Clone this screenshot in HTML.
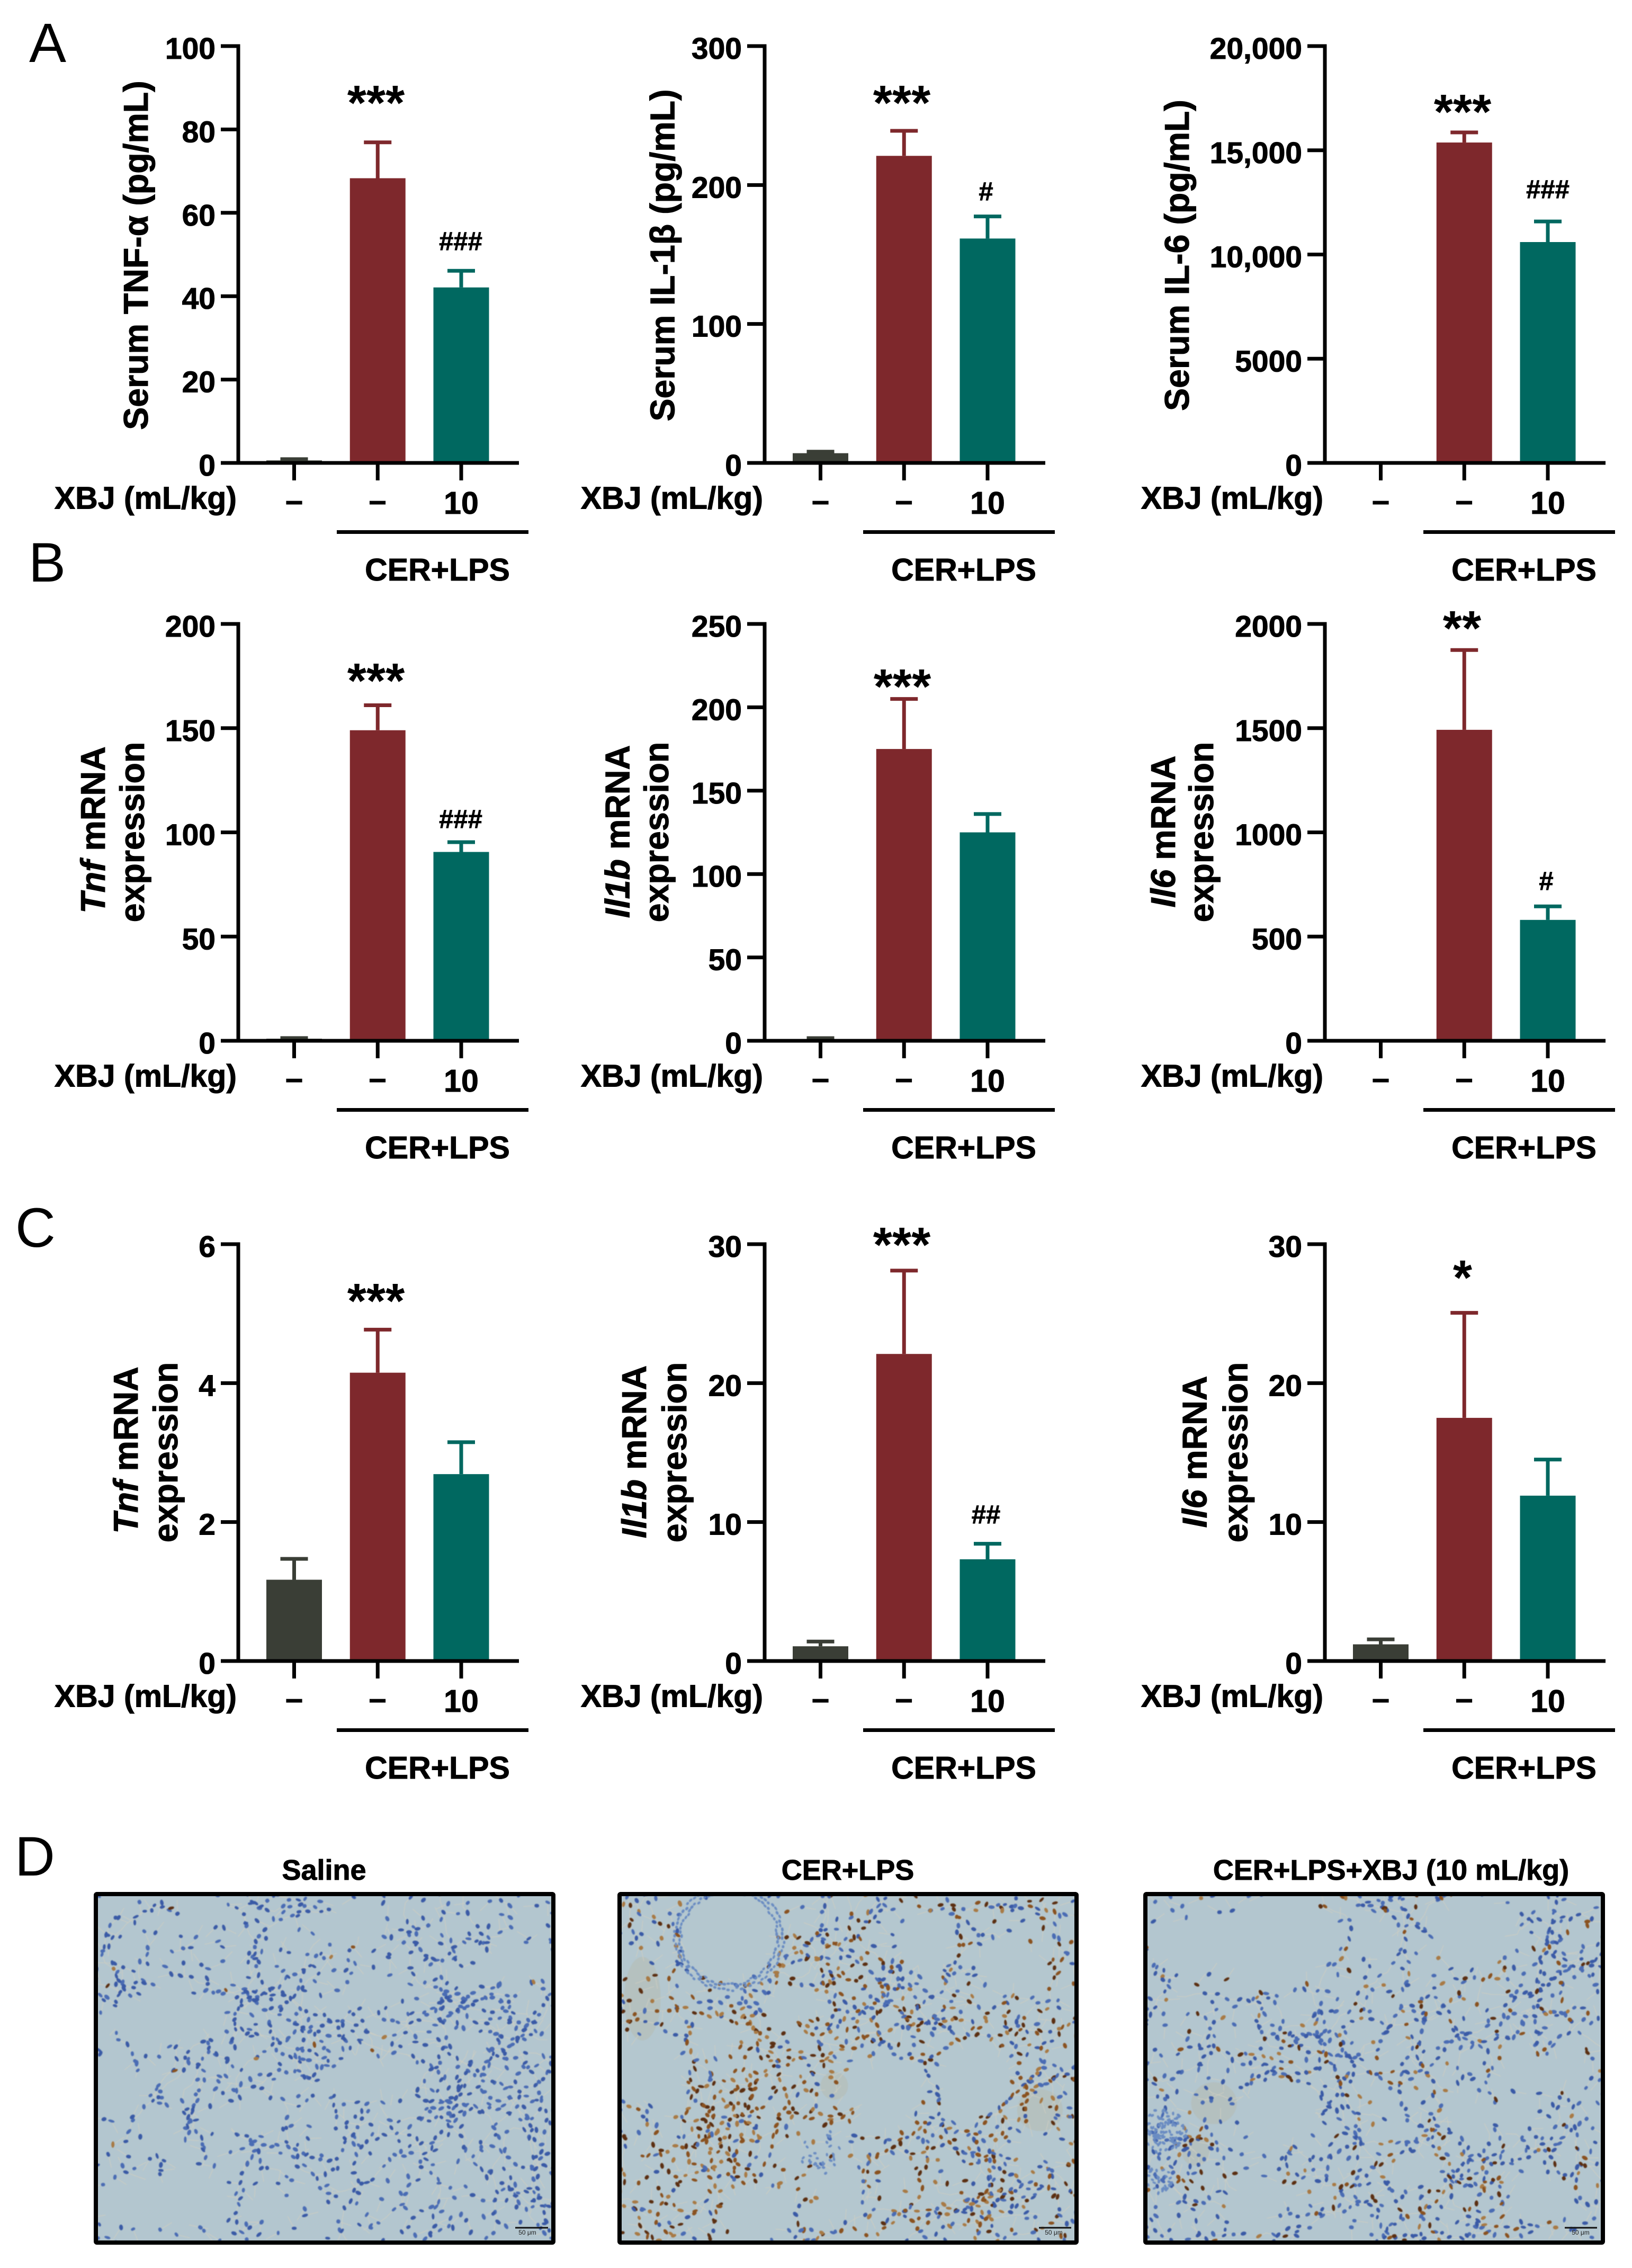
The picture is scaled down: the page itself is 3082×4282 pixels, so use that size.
<!DOCTYPE html>
<html lang="en">
<head>
<meta charset="utf-8">
<title>XBJ cytokine and mRNA expression figure</title>
<style>
html,body{margin:0;padding:0;background:#fff;}
#figure{position:relative;width:3082px;height:4282px;overflow:hidden;background:#fff;}
#figure-svg{position:absolute;left:0;top:0;}
canvas{position:absolute;top:3576px;filter:blur(0.8px);}
text{font-family:"Liberation Sans",Arial,sans-serif;fill:#000;}
.letter{font-size:105px;font-weight:400;}
.tick{font-size:57px;font-weight:700;text-anchor:end;stroke:#000;stroke-width:1;}
.lab{font-size:59px;font-weight:700;stroke:#000;stroke-width:1;}
.mid{text-anchor:middle;}
.ttl{font-size:64.5px;font-weight:700;text-anchor:middle;stroke:#000;stroke-width:1;}
.star{font-size:93px;font-weight:700;text-anchor:middle;}
.hash{font-size:49px;font-weight:700;text-anchor:middle;stroke:#000;stroke-width:0.8;}
.img-title{font-size:54px;font-weight:700;text-anchor:middle;stroke:#000;stroke-width:1;}
.scale{font-size:12px;font-weight:400;text-anchor:middle;fill:#222;}
.bracket{stroke:#000;stroke-width:7;}
</style>
</head>
<body>
<div id="figure">
<canvas id="histo-saline" width="864" height="658" style="left:181px"></canvas>
<canvas id="histo-cer" width="863" height="658" style="left:1170px"></canvas>
<canvas id="histo-xbj" width="864" height="658" style="left:2163px"></canvas>

<svg id="figure-svg" width="3082" height="4282" viewBox="0 0 3082 4282" xmlns="http://www.w3.org/2000/svg">

<text class="letter" x="55" y="117">A</text>
<text class="letter" x="54" y="1098">B</text>
<text class="letter" x="29" y="2354">C</text>
<text class="letter" x="28" y="3541">D</text>

<!-- Panel A -->
<g id="a1" transform="translate(450,874)">
  <text class="ttl" transform="translate(-171,-392) rotate(-90)">Serum TNF-α (pg/mL)</text>
  <text class="lab" x="-3" y="86.5" text-anchor="end">XBJ (mL/kg)</text>
  <text class="lab mid" x="105.5" y="91">–</text>
  <text class="lab mid" x="263" y="91">–</text>
  <text class="lab mid" x="421" y="96">10</text>
  <line class="bracket" x1="186" x2="548" y1="130.5" y2="130.5"/>
  <text class="lab mid" x="376" y="222">CER+LPS</text>
  <text class="star" x="260" y="-648">***</text>
  <text class="hash" x="420" y="-402">###</text>
</g>
<g id="a2" transform="translate(1444,874)">
  <text class="ttl" transform="translate(-170.5,-392) rotate(-90)">Serum IL-1β (pg/mL)</text>
  <text class="lab" x="-3" y="86.5" text-anchor="end">XBJ (mL/kg)</text>
  <text class="lab mid" x="105.5" y="91">–</text>
  <text class="lab mid" x="263" y="91">–</text>
  <text class="lab mid" x="421" y="96">10</text>
  <line class="bracket" x1="186" x2="548" y1="130.5" y2="130.5"/>
  <text class="lab mid" x="376" y="222">CER+LPS</text>
  <text class="star" x="259" y="-648">***</text>
  <text class="hash" x="418" y="-496">#</text>
</g>
<g id="a3" transform="translate(2502,874)">
  <text class="ttl" transform="translate(-257,-392) rotate(-90)">Serum IL-6 (pg/mL)</text>
  <text class="lab" x="-3" y="86.5" text-anchor="end">XBJ (mL/kg)</text>
  <text class="lab mid" x="105.5" y="91">–</text>
  <text class="lab mid" x="263" y="91">–</text>
  <text class="lab mid" x="421" y="96">10</text>
  <line class="bracket" x1="186" x2="548" y1="130.5" y2="130.5"/>
  <text class="lab mid" x="376" y="222">CER+LPS</text>
  <text class="star" x="260" y="-631">***</text>
  <text class="hash" x="421" y="-500">###</text>
</g>

<!-- Panel B -->
<g id="b1" transform="translate(450,1965)">
  <text class="ttl" transform="translate(-252,-398) rotate(-90)"><tspan font-style="italic">Tnf</tspan> mRNA</text>
  <text class="ttl" transform="translate(-178,-394) rotate(-90)">expression</text>
  <text class="lab" x="-3" y="86.5" text-anchor="end">XBJ (mL/kg)</text>
  <text class="lab mid" x="105.5" y="91">–</text>
  <text class="lab mid" x="263" y="91">–</text>
  <text class="lab mid" x="421" y="96">10</text>
  <line class="bracket" x1="186" x2="548" y1="130.5" y2="130.5"/>
  <text class="lab mid" x="376" y="222">CER+LPS</text>
  <text class="star" x="260" y="-648">***</text>
  <text class="hash" x="420" y="-402">###</text>
</g>
<g id="b2" transform="translate(1444,1965)">
  <text class="ttl" transform="translate(-255.5,-395) rotate(-90)"><tspan font-style="italic">Il1b</tspan> mRNA</text>
  <text class="ttl" transform="translate(-182,-394) rotate(-90)">expression</text>
  <text class="lab" x="-3" y="86.5" text-anchor="end">XBJ (mL/kg)</text>
  <text class="lab mid" x="105.5" y="91">–</text>
  <text class="lab mid" x="263" y="91">–</text>
  <text class="lab mid" x="421" y="96">10</text>
  <line class="bracket" x1="186" x2="548" y1="130.5" y2="130.5"/>
  <text class="lab mid" x="376" y="222">CER+LPS</text>
  <text class="star" x="260" y="-637">***</text>
</g>
<g id="b3" transform="translate(2502,1965)">
  <text class="ttl" transform="translate(-283,-395) rotate(-90)"><tspan font-style="italic">Il6</tspan> mRNA</text>
  <text class="ttl" transform="translate(-211,-394) rotate(-90)">expression</text>
  <text class="lab" x="-3" y="86.5" text-anchor="end">XBJ (mL/kg)</text>
  <text class="lab mid" x="105.5" y="91">–</text>
  <text class="lab mid" x="263" y="91">–</text>
  <text class="lab mid" x="421" y="96">10</text>
  <line class="bracket" x1="186" x2="548" y1="130.5" y2="130.5"/>
  <text class="lab mid" x="376" y="222">CER+LPS</text>
  <text class="star" x="259" y="-747">**</text>
  <text class="hash" x="418" y="-285">#</text>
</g>

<!-- Panel C -->
<g id="c1" transform="translate(450,3136)">
  <text class="ttl" transform="translate(-190,-398) rotate(-90)"><tspan font-style="italic">Tnf</tspan> mRNA</text>
  <text class="ttl" transform="translate(-115,-394) rotate(-90)">expression</text>
  <text class="lab" x="-3" y="86.5" text-anchor="end">XBJ (mL/kg)</text>
  <text class="lab mid" x="105.5" y="91">–</text>
  <text class="lab mid" x="263" y="91">–</text>
  <text class="lab mid" x="421" y="96">10</text>
  <line class="bracket" x1="186" x2="548" y1="130.5" y2="130.5"/>
  <text class="lab mid" x="376" y="222">CER+LPS</text>
  <text class="star" x="260" y="-648">***</text>
</g>
<g id="c2" transform="translate(1444,3136)">
  <text class="ttl" transform="translate(-224,-395) rotate(-90)"><tspan font-style="italic">Il1b</tspan> mRNA</text>
  <text class="ttl" transform="translate(-148,-394) rotate(-90)">expression</text>
  <text class="lab" x="-3" y="86.5" text-anchor="end">XBJ (mL/kg)</text>
  <text class="lab mid" x="105.5" y="91">–</text>
  <text class="lab mid" x="263" y="91">–</text>
  <text class="lab mid" x="421" y="96">10</text>
  <line class="bracket" x1="186" x2="548" y1="130.5" y2="130.5"/>
  <text class="lab mid" x="376" y="222">CER+LPS</text>
  <text class="star" x="259" y="-754">***</text>
  <text class="hash" x="418" y="-260">##</text>
</g>
<g id="c3" transform="translate(2502,3136)">
  <text class="ttl" transform="translate(-223.5,-395) rotate(-90)"><tspan font-style="italic">Il6</tspan> mRNA</text>
  <text class="ttl" transform="translate(-146.5,-394) rotate(-90)">expression</text>
  <text class="lab" x="-3" y="86.5" text-anchor="end">XBJ (mL/kg)</text>
  <text class="lab mid" x="105.5" y="91">–</text>
  <text class="lab mid" x="263" y="91">–</text>
  <text class="lab mid" x="421" y="96">10</text>
  <line class="bracket" x1="186" x2="548" y1="130.5" y2="130.5"/>
  <text class="lab mid" x="376" y="222">CER+LPS</text>
  <text class="star" x="260" y="-692">*</text>
</g>

<!-- Panel D -->
<text class="img-title" x="612" y="3549">Saline</text>
<text class="img-title" x="1601" y="3549">CER+LPS</text>
<text class="img-title" x="2627" y="3549">CER+LPS+XBJ (10 mL/kg)</text>

<rect x="181" y="3576" width="864" height="658" rx="2" fill="none" stroke="#000" stroke-width="8"/>
<rect x="1170" y="3576" width="863" height="658" rx="2" fill="none" stroke="#000" stroke-width="8"/>
<rect x="2163" y="3576" width="864" height="658" rx="2" fill="none" stroke="#000" stroke-width="8"/>

<line x1="973" x2="1035" y1="4206" y2="4206" stroke="#111" stroke-width="3"/>
<text class="scale" x="996" y="4219">50 μm</text>
<line x1="1962" x2="2023" y1="4206" y2="4206" stroke="#111" stroke-width="3"/>
<text class="scale" x="1990" y="4219">50 μm</text>
<line x1="2955" x2="3016" y1="4206" y2="4206" stroke="#111" stroke-width="3"/>
<text class="scale" x="2985" y="4219">50 μm</text>
</svg>
</div>

<script>
// ---- chart data ----
const groupKeys = ['saline', 'cer-lps', 'cer-lps-xbj'];

const serumTnfMeans = [0.6, 68.3, 42.1];
const serumTnfTops = [0.9, 76.9, 46.1];
const serumTnfTicks = [0, 20, 40, 60, 80, 100];
const serumTnfTickLabels = ['0', '20', '40', '60', '80', '100'];

const serumIl1bMeans = [7, 221, 161.5];
const serumIl1bTops = [8.1, 239, 177.4];
const serumIl1bTicks = [0, 100, 200, 300];
const serumIl1bTickLabels = ['0', '100', '200', '300'];

const serumIl6Means = [0, 15373, 10597];
const serumIl6Tops = [0, 15858, 11586];
const serumIl6Ticks = [0, 5000, 10000, 15000, 20000];
const serumIl6TickLabels = ['0', '5000', '10,000', '15,000', '20,000'];

const tissueBTnfMeans = [1, 149, 90.6];
const tissueBTnfTops = [1.3, 161, 95.3];
const tissueBTnfTicks = [0, 50, 100, 150, 200];
const tissueBTnfTickLabels = ['0', '50', '100', '150', '200'];

const tissueBIl1bMeans = [1, 175, 125];
const tissueBIl1bTops = [1.6, 205, 136];
const tissueBIl1bTicks = [0, 50, 100, 150, 200, 250];
const tissueBIl1bTickLabels = ['0', '50', '100', '150', '200', '250'];

const tissueBIl6Means = [0, 1492, 580];
const tissueBIl6Tops = [0, 1875, 645];
const tissueBIl6Ticks = [0, 500, 1000, 1500, 2000];
const tissueBIl6TickLabels = ['0', '500', '1000', '1500', '2000'];

const tissueCTnfMeans = [1.17, 4.15, 2.69];
const tissueCTnfTops = [1.47, 4.77, 3.15];
const tissueCTnfTicks = [0, 2, 4, 6];
const tissueCTnfTickLabels = ['0', '2', '4', '6'];

const tissueCIl1bMeans = [1.06, 22.1, 7.32];
const tissueCIl1bTops = [1.4, 28.1, 8.44];
const tissueCIl1bTicks = [0, 10, 20, 30];
const tissueCIl1bTickLabels = ['0', '10', '20', '30'];

const tissueCIl6Means = [1.2, 17.5, 11.9];
const tissueCIl6Tops = [1.56, 25.06, 14.5];
const tissueCIl6Ticks = [0, 10, 20, 30];
const tissueCIl6TickLabels = ['0', '10', '20', '30'];

// ---- drawing constants ----
const groupColors = ['#3a3e36', '#7e282c', '#006860'];
const SVG_NS = 'http://www.w3.org/2000/svg';
const plotHeight = 787;
const firstGroupX = 105.5;
const groupStep = 157.75;
const barWidth = 105;
const capWidth = 52;
const lineWidth = 7;
const errorWidth = 7;
const tickLength = 33;
const axisLength = 530;

function shape(tag, attrs) {
  const el = document.createElementNS(SVG_NS, tag);
  for (const k in attrs) el.setAttribute(k, attrs[k]);
  return el;
}

function drawChart(id, means, tops, ticks, tickLabels) {
  const g = document.getElementById(id);
  const maxValue = ticks[ticks.length - 1];
  const y = function (v) { return -v / maxValue * plotHeight; };
  const x = function (i) { return firstGroupX + i * groupStep; };

  means.forEach(function (m, i) {
    if (tops[i] > 0) {
      const stem = shape('line', { x1: x(i), x2: x(i), y1: y(m), y2: y(tops[i]), stroke: groupColors[i], 'stroke-width': errorWidth });
      
      
      g.appendChild(stem);
      const cap = shape('line', { x1: x(i) - capWidth / 2, x2: x(i) + capWidth / 2, y1: y(tops[i]), y2: y(tops[i]), stroke: groupColors[i], 'stroke-width': errorWidth });
      
      
      g.appendChild(cap);
    }
    const bar = shape('rect', { x: x(i) - barWidth / 2, y: y(m), width: barWidth, height: -y(m), fill: groupColors[i] });
    
    
    g.appendChild(bar);

    const xTick = shape('line', { x1: x(i), x2: x(i), y1: 0, y2: tickLength, stroke: '#000', 'stroke-width': lineWidth });
    
    
    g.appendChild(xTick);
  });

  const yAxis = shape('line', { x1: 0, x2: 0, y1: 3.5, y2: y(maxValue) - 3.5, stroke: '#000', 'stroke-width': lineWidth });
  
  
  g.appendChild(yAxis);

  const xAxis = shape('line', { x1: -tickLength, x2: axisLength, y1: 0, y2: 0, stroke: '#000', 'stroke-width': lineWidth });
  
  
  g.appendChild(xAxis);

  ticks.forEach(function (t, i) {
    const tick = shape('line', { x1: -tickLength, x2: 0, y1: y(t), y2: y(t), stroke: '#000', 'stroke-width': lineWidth });
    
    
    g.appendChild(tick);
    const label = shape('text', { class: 'tick', x: -43, y: y(t) + 24 });
    label.textContent = tickLabels[i];
    
    
    g.appendChild(label);
  });
}

drawChart('a1', serumTnfMeans, serumTnfTops, serumTnfTicks, serumTnfTickLabels);
drawChart('a2', serumIl1bMeans, serumIl1bTops, serumIl1bTicks, serumIl1bTickLabels);
drawChart('a3', serumIl6Means, serumIl6Tops, serumIl6Ticks, serumIl6TickLabels);
drawChart('b1', tissueBTnfMeans, tissueBTnfTops, tissueBTnfTicks, tissueBTnfTickLabels);
drawChart('b2', tissueBIl1bMeans, tissueBIl1bTops, tissueBIl1bTicks, tissueBIl1bTickLabels);
drawChart('b3', tissueBIl6Means, tissueBIl6Tops, tissueBIl6Ticks, tissueBIl6TickLabels);
drawChart('c1', tissueCTnfMeans, tissueCTnfTops, tissueCTnfTicks, tissueCTnfTickLabels);
drawChart('c2', tissueCIl1bMeans, tissueCIl1bTops, tissueCIl1bTicks, tissueCIl1bTickLabels);
drawChart('c3', tissueCIl6Means, tissueCIl6Tops, tissueCIl6Ticks, tissueCIl6TickLabels);

// ---- micrograph texture (decorative tissue, not chart data) ----
const blueTones = ['#3a5aa6', '#4a6cb4'];
const brownTones = ['#5b2f12', '#8a5220', '#a87a45'];
const softBlue = '#6a8cc2';

function histology(id, opt) {
  const cv = document.getElementById(id);
  const ctx = cv.getContext('2d');
  const W = cv.width, H = cv.height;
  let s = opt.seed >>> 0;
  const rnd = function () { s = (Math.imul(s, 1664525) + 1013904223) >>> 0; return s / 4294967296; };
  const blocked = function (x, y) {
    const nx = x / W, ny = y / H;
    for (let k = 0; k < opt.spaces.length; k++) {
      const e = opt.spaces[k];
      const dx = (nx - e[0]) / e[2], dy = (ny - e[1]) / e[3];
      if (dx * dx + dy * dy < 1) return true;
    }
    return false;
  };
  const brownChance = function (x, y) {
    const nx = x / W, ny = y / H;
    let p = opt.brown;
    for (let k = 0; k < opt.hot.length; k++) {
      const h = opt.hot[k];
      const dx = (nx - h[0]) / h[2], dy = (ny - h[1]) / h[2];
      if (dx * dx + dy * dy < 1) p = Math.max(p, h[3]);
    }
    return p;
  };
  ctx.fillStyle = opt.bg;
  ctx.fillRect(0, 0, W, H);

  opt.haze.forEach(function (h) {
    ctx.fillStyle = 'rgba(188,172,135,0.22)';
    ctx.beginPath();
    ctx.ellipse(h[0] * W, h[1] * H, h[2] * W, h[3] * H, 0, 0, Math.PI * 2);
    ctx.fill();
  });

  const cells = [];
  ctx.strokeStyle = 'rgba(208,206,194,0.8)';
  ctx.lineWidth = 1.4;
  ctx.beginPath();
  for (let w = 0; w < opt.walks; w++) {
    let x = rnd() * W, y = rnd() * H;
    let a = rnd() * Math.PI * 2;
    const len = 6 + Math.floor(rnd() * 14);
    for (let i = 0; i < len; i++) {
      if (blocked(x, y)) {
        a += Math.PI / 2 + rnd();
        x += Math.cos(a) * 8;
        y += Math.sin(a) * 8;
        if (blocked(x, y)) break;
      }
      const nx = x + Math.cos(a) * (13 + rnd() * 11);
      const ny = y + Math.sin(a) * (13 + rnd() * 11);
      ctx.moveTo(x, y);
      ctx.lineTo(nx, ny);
      if (rnd() < opt.density) cells.push([x, y, a + (rnd() - 0.5) * 1.2, 0]);
      x = nx;
      y = ny;
      a += (rnd() - 0.5) * 1.5;
    }
  }
  // evenly spread cells with short wisps of septum between walks
  for (let gy = 12; gy < H; gy += 30) {
    for (let gx = 12; gx < W; gx += 30) {
      const px = gx + (rnd() - 0.5) * 26, py = gy + (rnd() - 0.5) * 26;
      if (blocked(px, py) || rnd() > opt.gridKeep) continue;
      cells.push([px, py, rnd() * 6.28, 0]);
      const a = rnd() * 6.28;
      ctx.moveTo(px, py);
      ctx.lineTo(px + Math.cos(a) * 26, py + Math.sin(a) * 26);
    }
  }
  ctx.stroke();

  opt.rings.forEach(function (r) {
    for (let i = 0; i < r[4]; i++) {
      const t = i / r[4] * Math.PI * 2;
      const f = 1 + (rnd() - 0.5) * 0.07;
      cells.push([(r[0] + Math.cos(t) * r[2] * f) * W, (r[1] + Math.sin(t) * r[3] * f) * H, t + Math.PI / 2, 1]);
    }
  });
  opt.clusters.forEach(function (c) {
    for (let i = 0; i < c[3]; i++) {
      const t = rnd() * Math.PI * 2, d = Math.sqrt(rnd());
      cells.push([(c[0] + Math.cos(t) * d * c[2]) * W, (c[1] + Math.sin(t) * d * c[2] * 1.3) * H, rnd() * 6, 1]);
    }
  });

  // one batched path per colour keeps this fast
  const paths = {};
  cells.forEach(function (c) {
    const soft = c[3] === 1;
    const isBrown = !soft && rnd() < brownChance(c[0], c[1]);
    const tones = isBrown ? brownTones : blueTones;
    const tone = soft ? softBlue : tones[Math.floor(rnd() * tones.length)];
    if (!paths[tone]) paths[tone] = new Path2D();
    const rx = soft ? 3 + rnd() : 3.8 + rnd() * 2.4;
    const ry = soft ? 2 + rnd() * 0.6 : 2.5 + rnd() * 1.3;
    paths[tone].moveTo(c[0] + Math.cos(c[2]) * rx, c[1] + Math.sin(c[2]) * rx);
    paths[tone].ellipse(c[0], c[1], rx, ry, c[2], 0, Math.PI * 2);
  });
  Object.keys(paths).forEach(function (tone) {
    ctx.fillStyle = tone;
    ctx.fill(paths[tone]);
  });
}

histology('histo-saline', {
  seed: 11, bg: '#b3c6cf', walks: 125, gridKeep: 0.72, density: 0.8, brown: 0.012, hot: [], rings: [], clusters: [], haze: [],
  spaces: [[0.61, 0.53, 0.105, 0.065], [0.16, 0.36, 0.13, 0.075], [0.56, 0.09, 0.08, 0.055], [0.16, 0.88, 0.14, 0.075], [0.32, 0.64, 0.08, 0.04], [0.9, 0.2, 0.06, 0.06], [0.05, 0.56, 0.06, 0.07], [0.6, 0.28, 0.06, 0.05], [0.4, 0.9, 0.05, 0.035], [0.82, 0.43, 0.04, 0.04]]
});

histology('histo-cer', {
  seed: 23, bg: '#b4c7cf', walks: 170, gridKeep: 0.75, density: 0.82, brown: 0.5,
  hot: [[0.35, 0.55, 0.2, 0.8], [0.14, 0.9, 0.18, 0.75], [0.05, 0.28, 0.08, 0.85], [0.25, 0.78, 0.1, 0.8]],
  spaces: [[0.24, 0.126, 0.105, 0.13], [0.07, 0.51, 0.08, 0.09], [0.58, 0.58, 0.07, 0.12], [0.78, 0.52, 0.08, 0.11], [0.85, 0.2, 0.07, 0.08], [0.67, 0.14, 0.06, 0.09], [0.38, 0.32, 0.07, 0.05], [0.29, 0.91, 0.07, 0.08], [0.48, 0.84, 0.05, 0.07], [0.2, 0.42, 0.05, 0.05], [0.9, 0.72, 0.04, 0.05]],
  rings: [[0.24, 0.126, 0.107, 0.134, 75], [0.24, 0.126, 0.118, 0.148, 75]],
  clusters: [[0.44, 0.74, 0.05, 30]],
  haze: [[0.92, 0.62, 0.05, 0.06], [0.47, 0.55, 0.03, 0.04], [0.05, 0.3, 0.04, 0.12]]
});

histology('histo-xbj', {
  seed: 37, bg: '#b3c6cf', walks: 130, gridKeep: 0.72, density: 0.8, brown: 0.2, rings: [],
  hot: [[0.75, 0.28, 0.05, 0.85], [0.55, 0.62, 0.1, 0.4], [0.7, 0.85, 0.12, 0.4], [0.95, 0.8, 0.06, 0.5], [0.4, 0.07, 0.04, 0.7]],
  spaces: [[0.27, 0.15, 0.12, 0.13], [0.72, 0.12, 0.09, 0.09], [0.08, 0.15, 0.07, 0.08], [0.29, 0.63, 0.09, 0.1], [0.71, 0.63, 0.06, 0.07], [0.86, 0.52, 0.1, 0.05], [0.5, 0.12, 0.05, 0.07], [0.25, 0.87, 0.07, 0.05], [0.6, 0.78, 0.05, 0.04], [0.87, 0.87, 0.07, 0.07]],
  clusters: [[0.04, 0.68, 0.05, 90], [0.03, 0.82, 0.03, 30]],
  haze: [[0.15, 0.6, 0.05, 0.06], [0.11, 0.74, 0.03, 0.04]]
});
</script>
</body>
</html>
